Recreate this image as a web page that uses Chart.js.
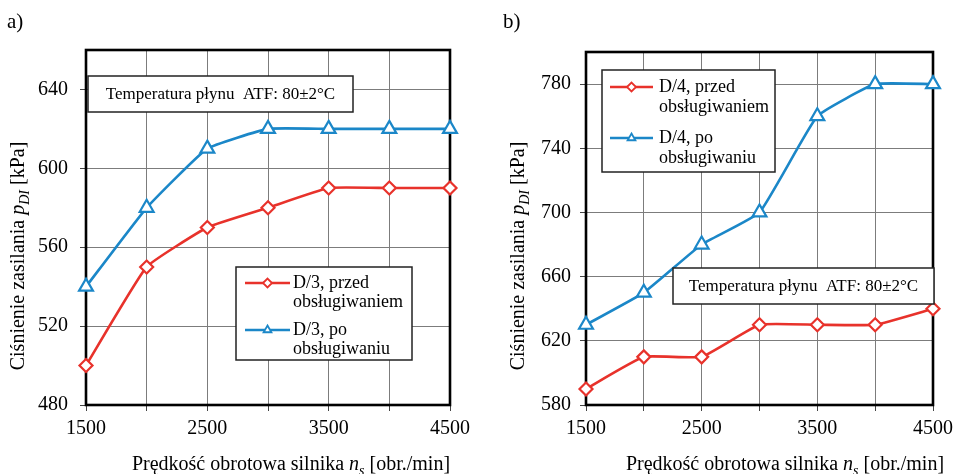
<!DOCTYPE html>
<html>
<head>
<meta charset="utf-8">
<script src="https://cdn.jsdelivr.net/npm/chart.js@4.4.0/dist/chart.umd.min.js"></script>
<style>
    body { margin: 0; background: #fff; }
    #wrap { position: relative; width: 959px; height: 474px; }
    canvas { position: absolute; top: 0; }
</style>
</head>
<body>
<div id="wrap">
    <canvas id="chartA" width="480" height="474" style="left:0"></canvas>
    <canvas id="chartB" width="479" height="474" style="left:480px"></canvas>
</div>
<script>
// data
let speeds = [1500, 2000, 2500, 3000, 3500, 4000, 4500];
let xLabels = [1500, 2500, 3500, 4500];
let d3Before = [500, 550, 570, 580, 590, 590, 590];
let d3After = [540, 580, 610, 620, 620, 620, 620];
let d4Before = [590, 610, 610, 630, 630, 630, 640];
let d4After = [630, 650, 680, 700, 760, 780, 780];
let yTicksA = [480, 520, 560, 600, 640];
let yTicksB = [580, 620, 660, 700, 740, 780];
let namesA = ['D/3, przed\nobsługiwaniem', 'D/3, po\nobsługiwaniu'];
let namesB = ['D/4, przed\nobsługiwaniem', 'D/4, po\nobsługiwaniu'];
let noteText = 'Temperatura płynu  ATF: 80±2°C';
let xTitle = ['Prędkość obrotowa silnika ', 'n', 's', ' [obr./min]'];
let yTitle = ['Ciśnienie zasilania ', 'p', 'DI', ' [kPa]'];

const RED = '#e8322b';
const BLUE = '#1b87c8';
const SERIF = '"Liberation Serif", "Times New Roman", serif';

function toPoints(values) {
    return speeds.map((x, i) => ({x: x, y: values[i]}));
}

function makeDataset(label, values, color, style, radius) {
    return {
        label: label,
        data: toPoints(values),
        borderColor: color,
        backgroundColor: color,
        borderWidth: 2.6,
        pointStyle: style,
        pointRadius: radius,
        pointBorderWidth: 2.2,
        pointBorderColor: color,
        pointBackgroundColor: '#fff',
        tension: 0.12,
        clip: false
    };
}

// text with italic symbol + subscript, centred at 0,0
function drawRich(ctx, parts, size) {
    let normal = size + 'px ' + SERIF;
    let ital = 'italic ' + size + 'px ' + SERIF;
    let sub = 'italic ' + Math.round(size * 0.68) + 'px ' + SERIF;
    let fonts = [normal, ital, sub, normal];
    let widths = parts.map((p, i) => { ctx.font = fonts[i]; return ctx.measureText(p).width; });
    let total = widths.reduce((a, b) => a + b, 0);
    let x = -total / 2;
    ctx.textBaseline = 'alphabetic';
    ctx.textAlign = 'left';
    ctx.fillStyle = '#000';
    for (let i = 0; i < parts.length; i++) {
        ctx.font = fonts[i];
        ctx.fillText(parts[i], x, size * 0.33 + (i === 2 ? size * 0.28 : 0));
        x += widths[i];
    }
}

const panelPlugin = {
    id: 'panel',
    beforeDatasetsDraw(chart) {
        let a = chart.chartArea, ctx = chart.ctx;
        ctx.save();
        ctx.strokeStyle = '#000';
        ctx.lineWidth = 2.6;
        ctx.strokeRect(a.left, a.top, a.right - a.left, a.bottom - a.top);
        ctx.restore();
    },
    afterDraw(chart, args, opts) {
        let ctx = chart.ctx;
        ctx.save();

        // legend box
        let lg = opts.legend;
        ctx.fillStyle = '#fff';
        ctx.fillRect(lg.x, lg.y, lg.w, lg.h);
        ctx.strokeStyle = '#222';
        ctx.lineWidth = 1.5;
        ctx.strokeRect(lg.x, lg.y, lg.w, lg.h);
        chart.data.datasets.forEach((ds, i) => {
            let rowY = lg.y + lg.first + i * lg.gap;
            ctx.strokeStyle = ds.borderColor;
            ctx.lineWidth = 2.6;
            ctx.beginPath();
            ctx.moveTo(lg.x + lg.line0, rowY);
            ctx.lineTo(lg.x + lg.line1, rowY);
            ctx.stroke();
            ctx.fillStyle = '#fff';
            ctx.strokeStyle = ds.borderColor;
            ctx.lineWidth = 1.8;
            Chart.helpers.drawPoint(ctx, {pointStyle: ds.pointStyle, radius: 4.5, borderWidth: 1.8},
                lg.x + (lg.line0 + lg.line1) / 2, rowY);
            ctx.fillStyle = '#000';
            ctx.font = '18px ' + SERIF;
            ctx.textAlign = 'left';
            ctx.textBaseline = 'middle';
            ds.label.split('\n').forEach((t, k) => {
                ctx.fillText(t, lg.x + lg.text, rowY + k * lg.lineH);
            });
        });

        // note box
        let nt = opts.note;
        ctx.fillStyle = '#fff';
        ctx.fillRect(nt.x, nt.y, nt.w, nt.h);
        ctx.strokeStyle = '#222';
        ctx.lineWidth = 1.5;
        ctx.strokeRect(nt.x, nt.y, nt.w, nt.h);
        ctx.fillStyle = '#000';
        ctx.font = '17px ' + SERIF;
        ctx.textAlign = 'center';
        ctx.textBaseline = 'middle';
        ctx.fillText(noteText, nt.x + nt.w / 2, nt.y + nt.h / 2 + 1);

        // axis titles
        ctx.save();
        ctx.translate(opts.xTitle.x, opts.xTitle.y);
        drawRich(ctx, xTitle, 20);
        ctx.restore();
        ctx.save();
        ctx.translate(opts.yTitle.x, opts.yTitle.y);
        ctx.rotate(-Math.PI / 2);
        drawRich(ctx, yTitle, 20);
        ctx.restore();

        // panel letter
        ctx.fillStyle = '#000';
        ctx.font = '21px ' + SERIF;
        ctx.textAlign = 'left';
        ctx.textBaseline = 'middle';
        ctx.fillText(opts.letter.text, opts.letter.x, opts.letter.y);
        ctx.restore();
    }
};

function makeOptions(yMin, yMax, yTicks, yWidth, yPad, pad, panel) {
    let tickFont = {family: SERIF, size: 20};
    let grid = {color: '#7c7c7c', lineWidth: 1, tickLength: 6, tickColor: '#444'};
    return {
        responsive: false,
        animation: false,
        layout: {padding: pad},
        plugins: {
            legend: {display: false},
            tooltip: {enabled: false},
            panel: panel
        },
        scales: {
            x: {
                type: 'linear',
                min: 1500,
                max: 4500,
                afterBuildTicks: s => { s.ticks = speeds.map(v => ({value: v})); },
                afterFit: s => { s.height = 69; },
                ticks: {
                    font: tickFont,
                    color: '#000',
                    padding: 6,
                    maxRotation: 0,
                    autoSkip: false,
                    callback: v => xLabels.includes(v) ? String(v) : ''
                },
                grid: grid,
                border: {display: false}
            },
            y: {
                min: yMin,
                max: yMax,
                afterBuildTicks: s => { s.ticks = yTicks.map(v => ({value: v})); },
                afterFit: s => { s.width = yWidth; },
                ticks: {font: tickFont, color: '#000', padding: yPad, callback: v => String(v)},
                grid: grid,
                border: {display: false}
            }
        }
    };
}

new Chart(document.getElementById('chartA'), {
    type: 'line',
    data: {
        datasets: [
            makeDataset(namesA[0], d3Before, RED, 'rectRot', 6.5),
            makeDataset(namesA[1], d3After, BLUE, 'triangle', 8)
        ]
    },
    options: makeOptions(480, 660, yTicksA, 86, 12, {top: 50, right: 30, bottom: 0, left: 0}, {
        legend: {x: 236, y: 267, w: 176, h: 93, line0: 9, line1: 54, text: 57, first: 16, lineH: 19.5, gap: 47},
        note: {x: 88, y: 76, w: 265, h: 36},
        xTitle: {x: 291, y: 463},
        yTitle: {x: 17, y: 256},
        letter: {x: 7, y: 22, text: 'a)'}
    }),
    plugins: [panelPlugin]
});

new Chart(document.getElementById('chartB'), {
    type: 'line',
    data: {
        datasets: [
            makeDataset(namesB[0], d4Before, RED, 'rectRot', 6.5),
            makeDataset(namesB[1], d4After, BLUE, 'triangle', 8)
        ]
    },
    options: makeOptions(580, 800, yTicksB, 106, 9, {top: 52, right: 21, bottom: 0, left: 0}, {
        legend: {x: 122, y: 70, w: 173, h: 102, line0: 8, line1: 51, text: 57, first: 17, lineH: 20, gap: 51},
        note: {x: 193, y: 268, w: 261, h: 36},
        xTitle: {x: 305, y: 463},
        yTitle: {x: 37, y: 256},
        letter: {x: 23, y: 22, text: 'b)'}
    }),
    plugins: [panelPlugin]
});
</script>
</body>
</html>
